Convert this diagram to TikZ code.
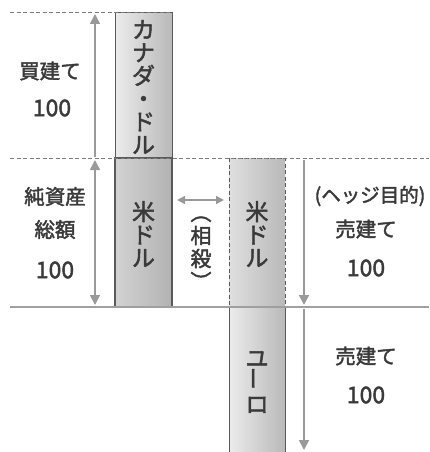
\documentclass[tikz,border=0pt]{standalone}
\usepackage{fontspec}
\usepackage{graphicx}
\setmainfont[FakeBold=2]{Noto Sans CJK JP}
\usetikzlibrary{arrows.meta}
\definecolor{txt}{HTML}{3A3A3A}
\definecolor{arr}{HTML}{9A9A9A}
\definecolor{edge}{HTML}{5A5A5A}
\begin{document}
\begin{tikzpicture}[x=1pt,y=-1pt,
  lbl/.style={text=txt,font=\fontsize{20.5}{33}\selectfont,align=center,inner sep=0pt},
  num/.style={text=txt,font=\fontsize{23}{24}\selectfont,inner sep=0pt},
  vlbl/.style={text=txt,font=\fontsize{23}{23}\selectfont,align=center,inner sep=0pt},
  bar/.style={draw=edge,line width=1pt,left color=gray!15,right color=gray!55},
  darkbar/.style={draw=edge,line width=1.2pt,left color=gray!35,right color=gray!60},
  dashbar/.style={draw=edge,line width=1pt,dashed,dash pattern=on 4pt off 2.5pt,left color=gray!25,right color=gray!55},
  guide/.style={draw=edge!80,line width=1pt,dash pattern=on 4pt off 2.5pt},
  base/.style={draw=gray!75,line width=2.5pt},
  dim/.style={draw=arr,line width=1.5pt,-{Triangle[width=10pt,length=10pt]}},
  ddim/.style={draw=arr,line width=1.5pt,{Triangle[width=10pt,length=10pt]}-{Triangle[width=10pt,length=10pt]}},
  sdim/.style={draw=arr,line width=1.5pt,{Triangle[width=8pt,length=8pt]}-{Triangle[width=8pt,length=8pt]}}
]
\useasboundingbox (0,0) rectangle (429,452);
% boxes
\path[bar] (115,13) rectangle (172,158);
\path[darkbar] (115,158) rectangle (172,307);
\path[dashbar] (229,158) rectangle (285,307);
\path[bar] (229,307) rectangle (285,452);
% guide lines
\draw[guide] (10,13) -- (172,13);
\draw[guide] (10,158) -- (429,158);
\draw[base] (10,307) -- (429,307);
% coordinates
\coordinate (a1t) at (95,14);
\coordinate (a1b) at (95,157);
\coordinate (a2t) at (95,160);
\coordinate (a2b) at (95,305);
\coordinate (a3t) at (304,160);
\coordinate (a3b) at (304,305);
\coordinate (a4t) at (304,309);
\coordinate (a4b) at (304,450);
\coordinate (hl) at (177,200);
\coordinate (hr) at (224,200);
% arrows
\draw[dim] (a1b) -- (a1t);
\draw[ddim] (a2t) -- (a2b);
\draw[dim] (a3t) -- (a3b);
\draw[dim] (a4t) -- (a4b);
\draw[sdim] (hl) -- (hr);
% labels
\node[lbl] (buy) at (50,71) {買建て};
\node[num] (buyn) at (52,108) {100};
\node[lbl] (net) at (55,213) {純資産\\総額};
\node[num] (netn) at (55,270) {100};
\node[lbl,font=\fontsize{19.5}{24}\selectfont] (hedge) at (370,196) {(ヘッジ目的)};
\node[lbl] (sell1) at (366,229) {売建て};
\node[num] (sell1n) at (366,268) {100};
\node[lbl] (sell2) at (366,356) {売建て};
\node[num] (sell2n) at (366,395) {100};
% vertical texts
\node[vlbl] (cad) at (143.5,87) {カ\\ナ\\ダ\\・\\ド\\ル};
\node[vlbl] (usd1) at (143.5,234) {米\\ド\\ル};
\node[vlbl] (usd2) at (257,234) {米\\ド\\ル};
\node[vlbl] (eur) at (257,382) {ユ\\\rotatebox{90}{ー}\\ロ};
\node[vlbl,font=\fontsize{21}{23}\selectfont] (net0) at (201,253) {︵\\相\\殺\\︶};
\end{tikzpicture}
\end{document}
